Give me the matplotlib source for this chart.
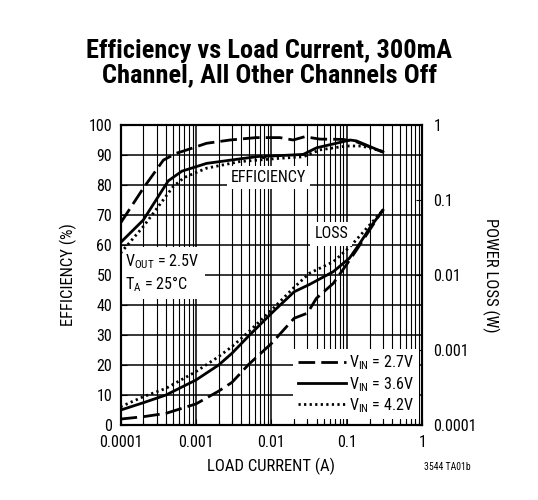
import matplotlib as mpl
mpl.use('Agg')
import matplotlib.pyplot as plt
import numpy as np

plt.rcParams['font.family'] = ['Roboto Condensed', 'DejaVu Sans']
plt.rcParams['mathtext.fontset'] = 'custom'
plt.rcParams['mathtext.rm'] = 'Roboto Condensed'

# efficiency (%) vs load current (A)
eff_x_27 = [0.0001, 0.0002, 0.00037, 0.00055, 0.00068, 0.00138, 0.00283, 0.0063, 0.0129,
            0.0194, 0.0277, 0.0437, 0.0891, 0.134, 0.3]
eff_27 = [67.3, 78.9, 88.3, 90.6, 91.3, 93.9, 95.0, 95.8, 95.8, 95.0, 96.1, 95.3, 95.2, 94.4, 91.0]

eff_x_36 = [0.0001, 0.0002, 0.00043, 0.00065, 0.00138, 0.0038, 0.0072, 0.0078, 0.0085, 0.0129,
            0.0264, 0.0397, 0.072, 0.11, 0.134, 0.3]
eff_36 = [60.8, 68.3, 81.4, 84.6, 87.2, 88.7, 89.6, 89.1, 89.6, 89.8, 90.2, 92.4, 93.9, 95.0, 94.7, 91.0]

eff_x_42 = [0.0001, 0.0002, 0.0005, 0.0007, 0.00138, 0.0038, 0.0129, 0.0264, 0.0437, 0.099,
            0.156, 0.3]
eff_42 = [57.3, 66.1, 79.5, 82.5, 85.6, 87.8, 88.9, 89.4, 91.7, 93.0, 93.0, 91.2]

# power loss (W) vs load current (A)
loss_x_27 = [0.0001, 0.0002, 0.0004, 0.001, 0.002, 0.003, 0.005, 0.01, 0.02, 0.022, 0.03,
             0.0394, 0.066, 0.098, 0.134, 0.3]
loss_27 = [1.20e-4, 1.29e-4, 1.43e-4, 1.91e-4, 2.83e-4, 3.70e-4, 6.43e-4, 1.22e-3, 2.65e-3,
           2.75e-3, 3.1e-3, 4.88e-3, 7.73e-3, 1.355e-2, 2.15e-2, 7.4e-2]

loss_x_36 = [0.0001, 0.0002, 0.0004, 0.001, 0.002, 0.003, 0.005, 0.01, 0.02, 0.0323, 0.066,
             0.108, 0.148, 0.2, 0.3]
loss_36 = [1.58e-4, 1.98e-4, 2.51e-4, 3.98e-4, 6.31e-4, 9.04e-4, 1.54e-3, 3.08e-3, 5.97e-3,
           7.52e-3, 1.107e-2, 1.675e-2, 2.63e-2, 4.21e-2, 7.3e-2]

loss_x_42 = [0.0001, 0.0002, 0.0004, 0.001, 0.002, 0.003, 0.005, 0.01, 0.02, 0.032, 0.066,
             0.11, 0.3]
loss_42 = [1.75e-4, 2.38e-4, 3.08e-4, 5.15e-4, 8.17e-4, 1.11e-3, 1.75e-3, 3.40e-3, 6.85e-3,
           1.057e-2, 1.5e-2, 2.38e-2, 7.3e-2]

dash = (0, (6, 2.2))
dot = (0, (0.8, 1.2))
fs = 11.5

fig = plt.figure(figsize=(5.38, 5.0), dpi=100)
ax = fig.add_axes([0.224, 0.15, 0.561, 0.6])
ax.set_xscale('log')
ax.set_xlim(0.0001, 1)
ax.set_ylim(0, 100)
ax.set_yticks(np.arange(0, 101, 10))
ax.set_xticks([0.0001, 0.001, 0.01, 0.1, 1])
ax.set_xticklabels(['0.0001', '0.001', '0.01', '0.1', '1'])
ax.grid(True, which='major', color='k', lw=1.1)
ax.grid(True, which='minor', axis='x', color='k', lw=0.8)
ax.tick_params(which='both', direction='in', labelsize=fs, length=4, width=0.8)
ax.tick_params(axis='x', pad=7)
ax.tick_params(axis='y', pad=6)
ax.tick_params(which='minor', length=3)
for s in ax.spines.values():
    s.set_linewidth(1.5)

lw = 2.0
ax.plot(eff_x_27, eff_27, color='k', lw=lw, ls=dash, zorder=4)
ax.plot(eff_x_36, eff_36, color='k', lw=lw, ls='-', zorder=4)
ax.plot(eff_x_42, eff_42, color='k', lw=lw, ls=dot, zorder=4)

ax2 = ax.twinx()
ax2.set_yscale('log')
ax2.set_ylim(0.0001, 1)
ax2.set_yticks([0.0001, 0.001, 0.01, 0.1, 1])
ax2.set_yticklabels(['0.0001', '0.001', '0.01', '0.1', '1'])
ax2.yaxis.set_minor_locator(mpl.ticker.NullLocator())
ax2.tick_params(direction='in', labelsize=fs, length=4, width=0.8, pad=8)
for s in ax2.spines.values():
    s.set_linewidth(1.5)

l1, = ax2.plot(loss_x_27, loss_27, color='k', lw=lw, ls=dash, zorder=4)
l2, = ax2.plot(loss_x_36, loss_36, color='k', lw=lw, ls='-', zorder=4)
l3, = ax2.plot(loss_x_42, loss_42, color='k', lw=lw, ls=dot, zorder=4)

ax.text(0.0029, 82.5, 'EFFICIENCY', fontsize=fs, va='center', ha='left', zorder=2.2,
        bbox=dict(facecolor='white', edgecolor='none', pad=3))
ax.text(0.037, 63.7, 'LOSS', fontsize=fs, va='center', ha='left', zorder=2.2,
        bbox=dict(facecolor='white', edgecolor='none', pad=3))
ax.text(0.000115, 50.6, 'V$_{\\mathrm{OUT}}$ = 2.5V\nT$_{\\mathrm{A}}$ = 25°C', fontsize=fs,
        va='center', ha='left', zorder=2.2, linespacing=1.2,
        bbox=dict(facecolor='white', edgecolor='none', pad=4))

ax.set_zorder(ax2.get_zorder() + 1)
ax.patch.set_visible(False)

leg = ax.legend([l1, l2, l3], ['V$_{\\mathrm{IN}}$ = 2.7V', 'V$_{\\mathrm{IN}}$ = 3.6V',
                               'V$_{\\mathrm{IN}}$ = 4.2V'],
                loc='lower right', bbox_to_anchor=(1.0, 0.008), fontsize=fs, frameon=True,
                fancybox=False, edgecolor='none', framealpha=1, handlelength=3.0,
                handletextpad=0.2, labelspacing=0.15, borderpad=0.3, borderaxespad=0.2)
leg.set_zorder(2.2)

ax.set_xlabel('LOAD CURRENT (A)', fontsize=12, labelpad=6)
ax.set_ylabel('EFFICIENCY (%)', fontsize=12, labelpad=8)
ax2.set_ylabel('POWER LOSS (W)', fontsize=12, rotation=-90, labelpad=16)

fig.text(0.5, 0.874, 'Efficiency vs Load Current, 300mA\nChannel, All Other Channels Off',
         ha='center', va='center', fontsize=19, fontweight='bold', linespacing=1.05)
fig.text(0.832, 0.066, '3544 TA01b', ha='center', va='center', fontsize=7)

fig.savefig('out.png', dpi=100)
